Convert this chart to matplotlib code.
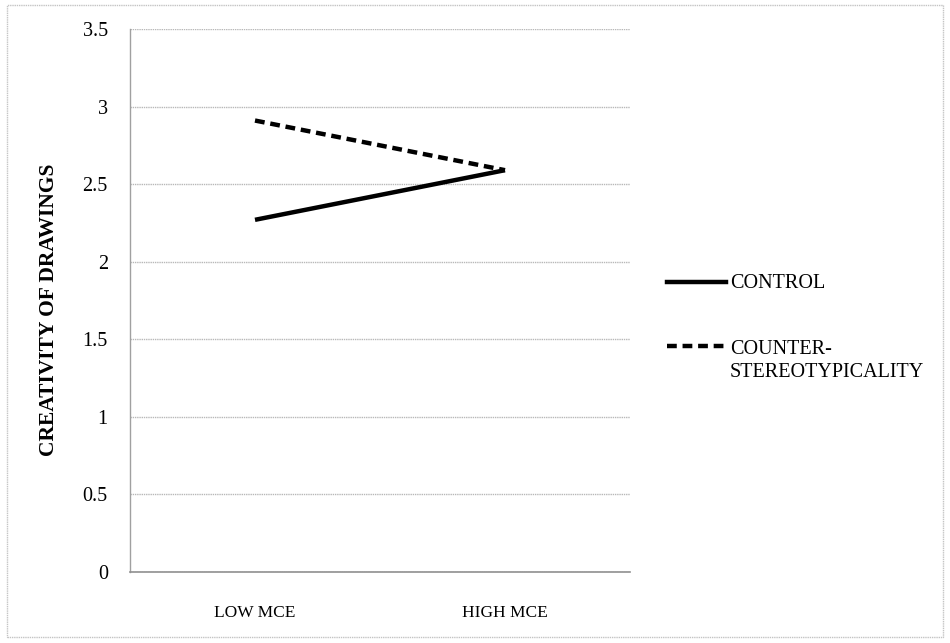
import matplotlib.pyplot as plt
from matplotlib.patches import Rectangle
from matplotlib.lines import Line2D

categories = ["LOW MCE", "HIGH MCE"]
control = [2.27, 2.59]
counter = [2.91, 2.59]
yticks = [0, 0.5, 1, 1.5, 2, 2.5, 3, 3.5]
ytick_labels = ["0", "0.5", "1", "1.5", "2", "2.5", "3", "3.5"]

serif = "Liberation Serif"

fig = plt.figure(figsize=(9.5, 6.43), dpi=100)
ax = fig.add_axes([130 / 950, 1 - 572 / 643, 500 / 950, 543 / 643])

x = list(range(len(categories)))
ax.plot(x, control, color="black", linewidth=3.2, solid_capstyle="butt", label="CONTROL")
ax.plot(x, counter, color="black", linewidth=3.2, linestyle=(0, (2.2, 1.3)),
        dash_capstyle="butt", label="COUNTER-\nSTEREOTYPICALITY")

ax.set_xlim(-0.5, 1.5)
ax.set_ylim(0, 3.5)
ax.set_yticks(yticks)
ax.set_yticklabels(ytick_labels, family=serif, fontsize=14.5)
ax.set_xticks(x)
ax.set_xticklabels(categories, family=serif, fontsize=12.5)
ax.tick_params(axis="y", length=0, pad=16)
ax.tick_params(axis="x", length=0, pad=24)

ax.grid(axis="y", color="#b8b8b8", linewidth=1.0, linestyle=(0, (1, 0.6)))
ax.set_axisbelow(True)
for side in ["top", "right"]:
    ax.spines[side].set_visible(False)
ax.spines["left"].set_color("#a0a0a0")
ax.spines["bottom"].set_color("#909090")
ax.spines["left"].set_linewidth(1.0)
ax.spines["bottom"].set_linewidth(1.2)

fig.text(49 / 950, 1 - 310 / 643, "CREATIVITY OF DRAWINGS", rotation=90,
         ha="center", va="center", family=serif,
         fontweight="bold", fontsize=15.5)

# legend
fig.add_artist(Line2D([667 / 950, 726 / 950], [1 - 282 / 643] * 2, color="black",
                      linewidth=3.2, transform=fig.transFigure))
fig.add_artist(Line2D([667 / 950, 726 / 950], [1 - 346 / 643] * 2, color="black",
                      linewidth=3.2, linestyle=(0, (2.2, 1.3)), dash_capstyle="butt",
                      transform=fig.transFigure))
fig.text(730 / 950, 1 - 283 / 643, "CONTROL", family=serif, fontsize=14.5,
         ha="left", va="center")
fig.text(730 / 950, 1 - 361 / 643, "COUNTER-\nSTEREOTYPICALITY", family=serif,
         fontsize=14.5, ha="left", va="center", linespacing=1.3)

# outer frame
fig.add_artist(Rectangle((7 / 950, 6 / 643), 936 / 950, 632 / 643, fill=False,
                         edgecolor="#c4c4c4", linewidth=1.0, linestyle=(0, (1, 0.6)),
                         transform=fig.transFigure))

plt.savefig("out.png", dpi=100)
